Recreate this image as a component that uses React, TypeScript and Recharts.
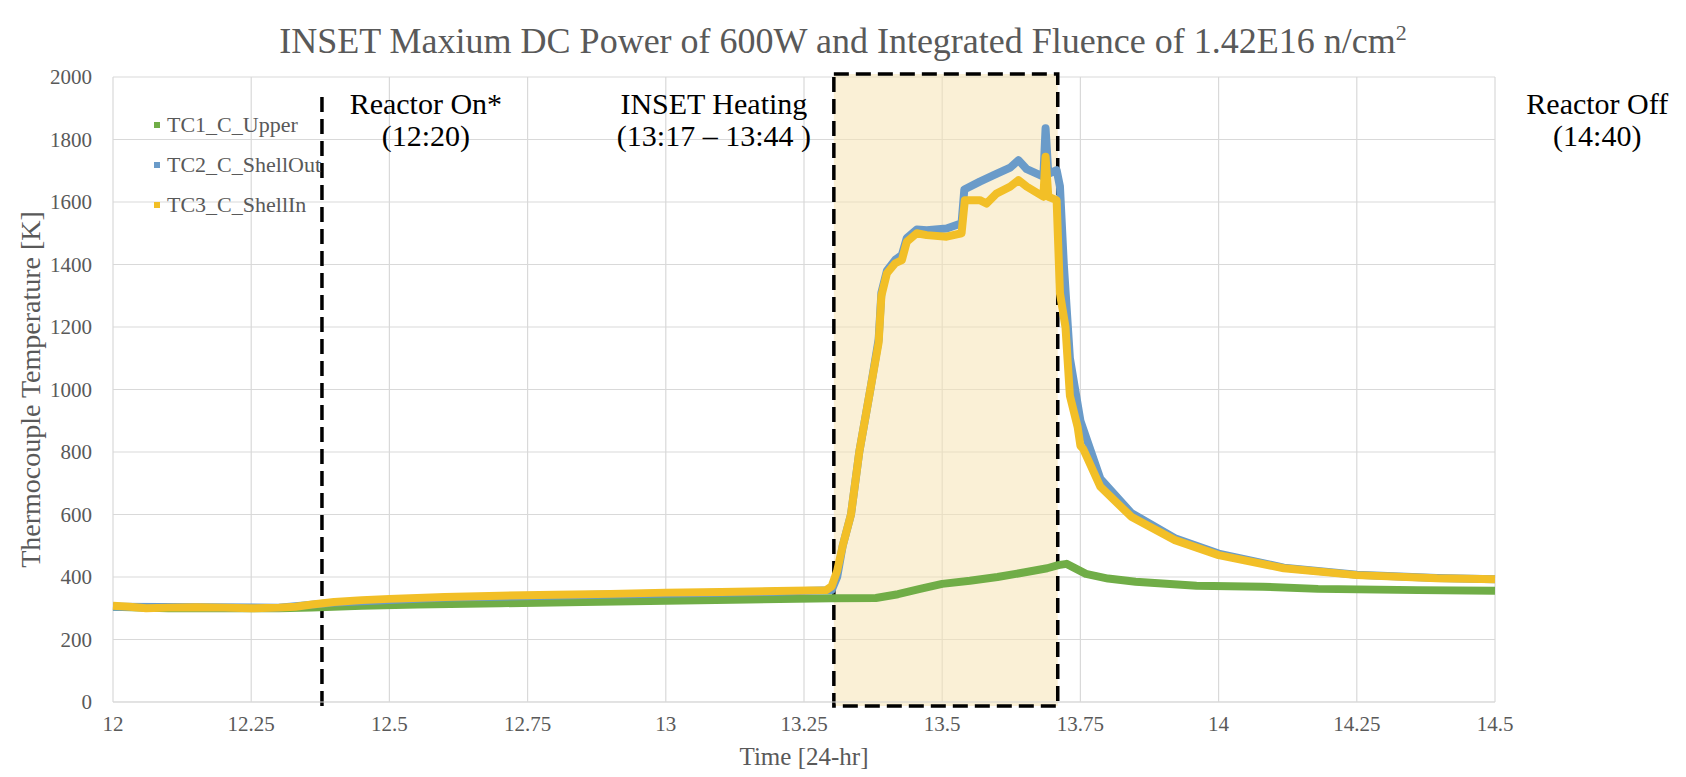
import React from 'react';
import { LineChart, Line, XAxis, YAxis, CartesianGrid, Legend, ReferenceArea, ReferenceLine, ReferenceDot } from 'recharts';

const FONT = '"Liberation Serif", "Times New Roman", serif';
const GRAY = '#595959';

const xTicks = [12, 12.25, 12.5, 12.75, 13, 13.25, 13.5, 13.75, 14, 14.25, 14.5];
const yTicks = [0, 200, 400, 600, 800, 1000, 1200, 1400, 1600, 1800, 2000];

const seriesNames = ['TC1_C_Upper', 'TC2_C_ShellOut', 'TC3_C_ShellIn'];
const seriesColors = ['#70AD47', '#6A9BC9', '#F2BF27'];

// time [h], temperature [K]
const tc1Time = [12.0, 12.1, 12.2, 12.3, 12.36, 12.45, 12.55, 12.7, 12.85, 13.0, 13.15, 13.3, 13.38, 13.42, 13.46, 13.5, 13.55, 13.6, 13.65, 13.69, 13.71, 13.725, 13.76, 13.8, 13.85, 13.96, 14.08, 14.18, 14.36, 14.5];
const tc1Temp = [305, 300, 300, 300, 302, 308, 312, 316, 320, 324, 328, 332, 333, 345, 362, 378, 388, 400, 415, 428, 438, 442, 410, 395, 385, 372, 369, 362, 358, 356];

const tc2Time = [12.0, 12.3, 12.4, 12.6, 12.9, 13.2, 13.3, 13.31, 13.32, 13.335, 13.35, 13.37, 13.385, 13.39, 13.4, 13.415, 13.427, 13.436, 13.454, 13.472, 13.508, 13.535, 13.54, 13.568, 13.598, 13.623, 13.638, 13.653, 13.683, 13.687, 13.692, 13.707, 13.713, 13.72, 13.731, 13.75, 13.786, 13.842, 13.921, 14.0, 14.118, 14.25, 14.395, 14.5];
const tc2Temp = [305, 302, 318, 334, 344, 353, 358, 400, 500, 600, 800, 1000, 1160, 1310, 1380, 1415, 1430, 1485, 1512, 1510, 1515, 1532, 1640, 1665, 1690, 1710, 1734, 1705, 1681, 1836, 1690, 1702, 1650, 1400, 1100, 900, 715, 605, 524, 475, 430, 407, 397, 393];

const tc3Time = [12.0, 12.03, 12.06, 12.1, 12.15, 12.2, 12.25, 12.3, 12.33, 12.36, 12.4, 12.45, 12.5, 12.6, 12.7, 12.8, 12.9, 13.0, 13.1, 13.2, 13.29, 13.3, 13.31, 13.32, 13.335, 13.35, 13.37, 13.385, 13.39, 13.4, 13.415, 13.427, 13.436, 13.454, 13.472, 13.508, 13.535, 13.538, 13.541, 13.568, 13.58, 13.598, 13.623, 13.638, 13.653, 13.683, 13.687, 13.692, 13.707, 13.713, 13.723, 13.731, 13.745, 13.75, 13.755, 13.786, 13.842, 13.921, 14.0, 14.118, 14.25, 14.395, 14.5];
const tc3Temp = [308, 305, 300, 302, 303, 302, 300, 302, 305, 312, 320, 326, 330, 336, 340, 343, 346, 350, 352, 355, 358, 370, 420, 500, 600, 800, 1000, 1150, 1300, 1372, 1404, 1414, 1473, 1500, 1494, 1489, 1500, 1553, 1606, 1606, 1595, 1627, 1649, 1670, 1649, 1617, 1745, 1617, 1606, 1308, 1200, 980, 880, 820, 810, 689, 593, 518, 470, 428, 406, 396, 393];

const reactorOn = 12.378;
const heatingStart = 13.304;
const heatingEnd = 13.709;

const annotations = [
  { t: 12.566, lines: ['Reactor On*', '(12:20)'] },
  { t: 13.087, lines: ['INSET Heating', '(13:17 \u2013 13:44 )'] },
  { t: 14.685, lines: ['Reactor Off', '(14:40)'] },
];
const annotationLevel = 1882;

const toPoints = (time: number[], temp: number[]) => time.map((t, i) => ({ t, v: temp[i] }));
const seriesData = [toPoints(tc1Time, tc1Temp), toPoints(tc2Time, tc2Temp), toPoints(tc3Time, tc3Temp)];

const LegendBox = () => (
  <div style={{ fontFamily: FONT, fontSize: 22, color: GRAY }}>
    {seriesNames.map((name, i) => (
      <div key={name} style={{ display: 'flex', alignItems: 'center', height: 40 }}>
        <span style={{ width: 6, height: 6, background: seriesColors[i], marginRight: 7 }} />
        <span>{name}</span>
      </div>
    ))}
  </div>
);

const YLabel = ({ viewBox }: any) => {
  const cx = viewBox.x + 22;
  const cy = viewBox.y + viewBox.height / 2;
  return (
    <text x={cx} y={cy} transform={`rotate(-90, ${cx}, ${cy})`} textAnchor="middle" dominantBaseline="central"
      fill={GRAY} fontSize={28} fontFamily={FONT}>
      Thermocouple Temperature [K]
    </text>
  );
};

const XLabel = ({ viewBox }: any) => (
  <text x={viewBox.x + viewBox.width / 2} y={viewBox.y + 63} textAnchor="middle" fill={GRAY} fontSize={25} fontFamily={FONT}>
    Time [24-hr]
  </text>
);

const App = () => {
  return (
    <div style={{ position: 'relative', width: 1670, height: 769, fontFamily: FONT }}>
      <div style={{ position: 'absolute', left: 0, top: 12, width: 1670, textAlign: 'center', fontSize: 36, color: GRAY, zIndex: 2 }}>
        INSET Maxium DC Power of 600W and Integrated Fluence of 1.42E16 n/cm<sup style={{ fontSize: 22 }}>2</sup>
      </div>
      <LineChart width={1670} height={769} margin={{ top: 69, right: 183, bottom: 8, left: 0 }}>
        <CartesianGrid stroke="#D9D9D9" strokeWidth={1.2} />
        <XAxis dataKey="t" type="number" domain={[12, 14.5]} ticks={xTicks} height={67} allowDuplicatedCategory={false}
          tickSize={0} tickMargin={14} axisLine={{ stroke: '#D9D9D9' }}
          tick={{ fontSize: 21, fill: GRAY, fontFamily: FONT }} label={<XLabel />} />
        <YAxis type="number" domain={[0, 2000]} ticks={yTicks} width={105} tickSize={0} tickMargin={21} axisLine={false}
          tick={{ fontSize: 21, fill: GRAY, fontFamily: FONT }} label={<YLabel />} />
        <ReferenceArea x1={heatingStart} x2={heatingEnd} y1={-13} y2={2010} ifOverflow="visible"
          fill="#F5E3B5" fillOpacity={0.55} stroke="#000" strokeWidth={3.5} strokeDasharray="15 7" />
        <ReferenceLine segment={[{ x: reactorOn, y: -13 }, { x: reactorOn, y: 1950 }]} ifOverflow="visible"
          stroke="#000" strokeWidth={3.5} strokeDasharray="15 7" />
        <Legend layout="vertical" align="center" verticalAlign="middle" content={() => <LegendBox />}
          wrapperStyle={{ left: 146, top: 97, width: 'auto', height: 'auto' }} />
        {seriesData.map((d, i) => (
          <Line key={seriesNames[i]} data={d} dataKey="v" name={seriesNames[i]} type="linear" dot={false}
            stroke={seriesColors[i]} strokeWidth={8} strokeLinejoin="round" isAnimationActive={false} />
        ))}
        {annotations.map((a) => (
          <ReferenceDot key={a.lines[0]} x={a.t} y={annotationLevel} ifOverflow="visible"
            shape={(p: any) => (
              <text x={p.cx} y={p.cy} textAnchor="middle" fill="#000" fontSize={30} fontFamily={FONT}>
                <tspan x={p.cx} dy={0}>{a.lines[0]}</tspan>
                <tspan x={p.cx} dy={32}>{a.lines[1]}</tspan>
              </text>
            )} />
        ))}
      </LineChart>
    </div>
  );
};

export default App;
